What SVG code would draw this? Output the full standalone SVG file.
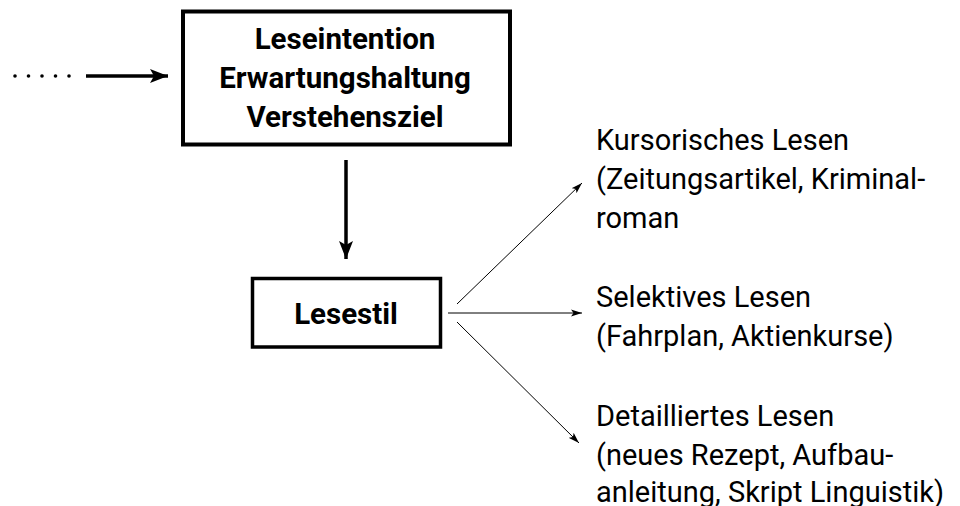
<svg xmlns="http://www.w3.org/2000/svg" width="960" height="506" viewBox="0 0 960 506">
  <defs>
    <style>
      .box { fill: #fff; stroke: #000; }
      .bold { font-family: Roboto, "Liberation Sans", sans-serif; font-weight: 700; font-size: 29.5px; fill: #000; text-anchor: middle; }
      .reg { font-family: Roboto, "Liberation Sans", sans-serif; font-weight: 400; font-size: 29px; fill: #000; }
      .thick { stroke: #000; stroke-width: 3.5; fill: none; }
      .thin { stroke: #000; stroke-width: 1; fill: none; }
    </style>
    <marker id="headBig" markerUnits="userSpaceOnUse" markerWidth="20" markerHeight="15" refX="18" refY="7.5" orient="auto">
      <path d="M0,0.5 L18,7.5 L0,14.5 L4,7.5 Z" fill="#000"/>
    </marker>
    <marker id="headSmall" markerUnits="userSpaceOnUse" markerWidth="12" markerHeight="8" refX="11" refY="4" orient="auto">
      <path d="M0,0.5 L11,4 L0,7.5 L2.5,4 Z" fill="#000"/>
    </marker>
  </defs>
  <rect width="960" height="506" fill="#fff"/>

  <g id="connectors">
    <g id="dots" fill="#000">
      <circle cx="15" cy="76" r="1.8"/>
      <circle cx="28.5" cy="76" r="1.8"/>
      <circle cx="42" cy="76" r="1.8"/>
      <circle cx="55.5" cy="76" r="1.8"/>
      <circle cx="69" cy="76" r="1.8"/>
    </g>
    <line class="thick" x1="86" y1="76" x2="168" y2="76" marker-end="url(#headBig)"/>
    <line class="thick" x1="346" y1="160" x2="346" y2="259" marker-end="url(#headBig)"/>
    <line class="thin" x1="457" y1="304" x2="582" y2="183" marker-end="url(#headSmall)"/>
    <line class="thin" x1="448" y1="313" x2="582" y2="313" marker-end="url(#headSmall)"/>
    <line class="thin" x1="457" y1="322" x2="579" y2="443" marker-end="url(#headSmall)"/>
  </g>

  <g id="node-intention">
    <rect class="box" x="183" y="11.5" width="327" height="133" stroke-width="4"/>
    <text class="bold" x="345" y="49">Leseintention</text>
    <text class="bold" x="345" y="88">Erwartungshaltung</text>
    <text class="bold" x="345" y="127">Verstehensziel</text>
  </g>

  <g id="node-lesestil">
    <rect class="box" x="252.5" y="278.5" width="188" height="68.5" stroke-width="3.5"/>
    <text class="bold" x="346" y="324">Lesestil</text>
  </g>

  <g id="node-kursorisch">
    <text class="reg" x="596" y="150">Kursorisches Lesen</text>
    <text class="reg" x="596" y="189">(Zeitungsartikel, Kriminal-</text>
    <text class="reg" x="596" y="228">roman</text>
  </g>

  <g id="node-selektiv">
    <text class="reg" x="596" y="307">Selektives Lesen</text>
    <text class="reg" x="596" y="346">(Fahrplan, Aktienkurse)</text>
  </g>

  <g id="node-detailliert">
    <text class="reg" x="596" y="426">Detailliertes Lesen</text>
    <text class="reg" x="596" y="464.5">(neues Rezept, Aufbau-</text>
    <text class="reg" x="596" y="502">anleitung, Skript Linguistik)</text>
  </g>
</svg>
